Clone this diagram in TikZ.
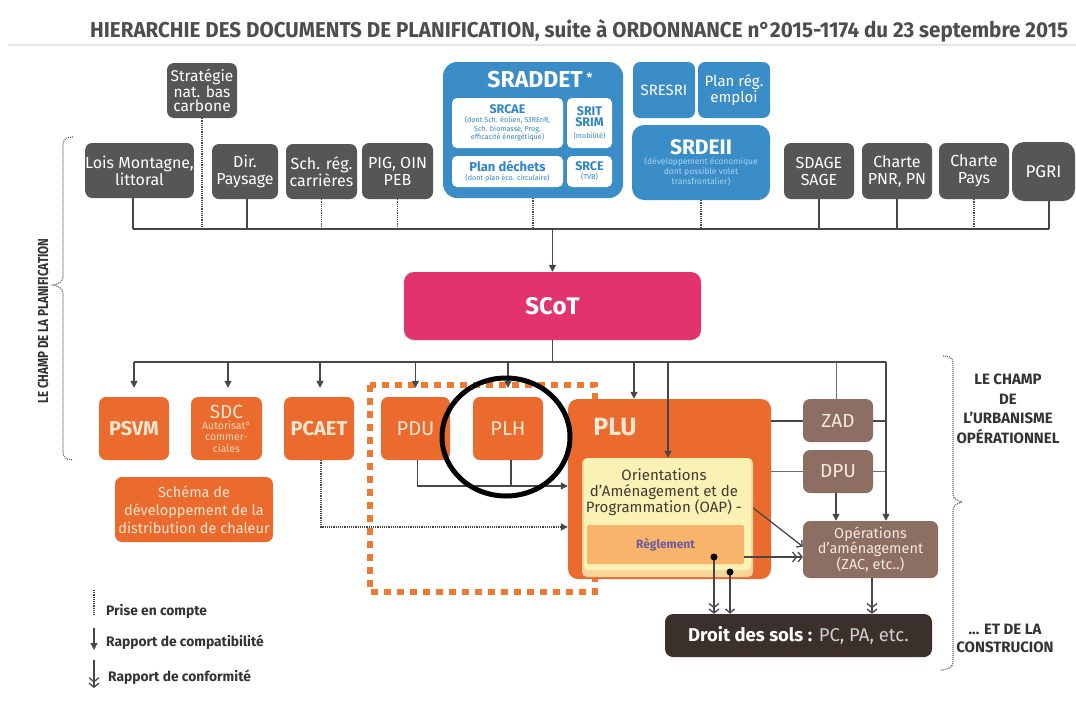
\documentclass[tikz,border=0pt]{standalone}
\usepackage{fontspec}
\setmainfont{Fira Sans}
\newfontfamily\condfont[FakeStretch=0.8]{Fira Sans}
\usetikzlibrary{arrows.meta}
\definecolor{gboxc}{HTML}{565657}
\definecolor{bboxc}{HTML}{3A8DC7}
\definecolor{btxtc}{HTML}{2F86C4}
\definecolor{bsmall}{HTML}{A8D3F0}
\definecolor{magc}{HTML}{E2336F}
\definecolor{oboxc}{HTML}{EA6B2D}
\definecolor{otxtc}{HTML}{FCE6D2}
\definecolor{brboxc}{HTML}{8C6E62}
\definecolor{brtxtc}{HTML}{F6E9E2}
\definecolor{darkc}{HTML}{3B302C}
\definecolor{ltgrayc}{HTML}{CFCFCF}
\definecolor{oapyc}{HTML}{FAF2B4}
\definecolor{oapbc}{HTML}{F6D49A}
\definecolor{oaptc}{HTML}{3F3A33}
\definecolor{reglc}{HTML}{F9B46C}
\definecolor{regtc}{HTML}{6E5A9E}
\definecolor{clinec}{HTML}{474747}
\definecolor{ttlc}{HTML}{4D4D4D}
\definecolor{txtc}{HTML}{333333}
\definecolor{framec}{HTML}{EC7A33}
\begin{document}
\begin{tikzpicture}[x=1pt,y=-1pt,
  sz/.style 2 args={minimum width=#1pt, minimum height=#2pt},
  box/.style={rounded corners=7pt, inner sep=0pt, align=center},
  gbx/.style={box, fill=gboxc, text=white, font=\fontsize{16}{17}\selectfont},
  bbx/.style={box, fill=bboxc, text=white},
  inb/.style={box, fill=white, text=btxtc, rounded corners=5pt},
  obx/.style={box, fill=oboxc, text=otxtc},
  brx/.style={box, fill=brboxc, text=brtxtc},
  conn/.style={draw=clinec, line width=1.5pt},
  thinconn/.style={draw=clinec!80, line width=0.8pt},
  dotln/.style={draw=clinec, line width=1.6pt, dash pattern=on 1.1pt off 1.1pt},
  bracel/.style={draw=clinec!85, line width=1.2pt, dash pattern=on 1pt off 1pt},
  arr/.style={conn, -{Triangle[width=7pt,length=7pt]}},
  conf/.style={conn, line width=1.3pt, -{Straight Barb[length=4pt,width=10pt,line width=1.3pt] Straight Barb[length=4pt,width=10pt,line width=1.3pt]}},
  openarr/.style={conn, line width=1.3pt, -{Straight Barb[length=4pt,width=9pt,line width=1.3pt]}},
  sidetxt/.style={inner sep=0pt, align=center, text=txtc, font=\fontsize{15}{19.5}\selectfont\bfseries},
  legtxt/.style={inner sep=0pt, anchor=west, text=txtc, font=\fontsize{13.8}{14}\selectfont\bfseries}
]
\useasboundingbox (0,0) rectangle (1076,702);
\fill[white] (0,0) rectangle (1076,702);

% title
\node[anchor=base west, inner sep=0pt, text=ttlc] (title) at (90,37)
  {\resizebox{978pt}{\height}{\fontsize{21.5}{22}\selectfont\bfseries HIERARCHIE DES DOCUMENTS DE PLANIFICATION, suite à ORDONNANCE n°2015-1174 du 23 septembre 2015}};
\draw[black!10, line width=1.5pt] (8,45) -- (1076,45);

% top row
\node[gbx, sz={70}{55}, font=\fontsize{15.5}{13.5}\selectfont] (strat) at (202,90.5) {Stratégie\\nat. bas\\carbone};
\node[gbx, sz={107}{55}] (lois) at (139.5,170.5) {Lois Montagne,\\littoral};
\node[gbx, sz={66}{55}] (dir) at (245,171.5) {Dir.\\Paysage};
\node[gbx, sz={71}{55}] (sch) at (321.5,171.5) {Sch. rég.\\carrières};
\node[gbx, sz={71}{56}] (pig) at (397.5,171) {PIG, OIN\\PEB};

\node[bbx, sz={180}{136}, rounded corners=14pt] (sraddet) at (533,130) {};
\node[text=white, inner sep=0pt, font=\fontsize{23}{23}\selectfont\bfseries] (sraddett) at (540,80)
  {SRADDET\,\raisebox{5pt}{\fontsize{13}{13}\selectfont *}};
\node[inb, sz={111}{50}, font=\fontsize{7.2}{8.8}\selectfont] (srcae) at (507.5,123)
  {{\fontsize{12.5}{13}\selectfont\bfseries SRCAE}\\(dont Sch. éolien, S3REnR,\\Sch. biomasse, Prog.\\efficacité énergétique)};
\node[inb, sz={45}{50}, font=\fontsize{7.2}{11.5}\selectfont] (srit) at (589.5,123)
  {{\fontsize{12.5}{13}\selectfont\bfseries SRIT}\\{\fontsize{12.5}{13}\selectfont\bfseries SRIM}\\(mobilité)};
\node[inb, sz={111}{31}, font=\fontsize{7.2}{9}\selectfont] (dechets) at (507.5,171.5)
  {{\fontsize{13}{13}\selectfont\bfseries Plan déchets}\\(dont plan éco. circulaire)};
\node[inb, sz={45}{31}, font=\fontsize{7.2}{9}\selectfont] (srce) at (589.5,171.5)
  {{\fontsize{12.5}{13}\selectfont\bfseries SRCE}\\(TVB)};

\node[bbx, sz={62}{56}, font=\fontsize{15}{16}\selectfont] (sresri) at (664,90) {SRESRI};
\node[bbx, sz={72}{56}, font=\fontsize{15}{16}\selectfont] (emploi) at (734,90) {Plan rég.\\emploi};
\node[bbx, sz={138}{75}, rounded corners=12pt, font=\fontsize{8.5}{10}\selectfont] (srdeii) at (701,162.5)
  {{\fontsize{21}{21}\selectfont\bfseries SRDEII}\\\textcolor{bsmall}{(développement économique}\\\textcolor{bsmall}{dont possible volet}\\\textcolor{bsmall}{transfrontalier)}};

\node[gbx, sz={70}{56}] (sdage) at (819,171) {SDAGE\\SAGE};
\node[gbx, sz={70}{56}] (pnr) at (897,171) {Charte\\PNR, PN};
\node[gbx, sz={70}{56}] (pays) at (974,171) {Charte\\Pays};
\node[gbx, sz={63}{59}, rounded corners=12pt, font=\fontsize{17}{17}\selectfont] (pgri) at (1043.5,171.5) {PGRI};

% bus 1
\coordinate (b1w) at (133,229);
\coordinate (b1e) at (1049,229);
\draw[conn] (b1w) -- (b1e);
\draw[conn] ([xshift=-6.5pt]lois.south) -- ([xshift=-6.5pt]lois.south |- b1w);
\draw[dotln] (strat.south) -- (strat.south |- b1w);
\draw[conn] ([xshift=2pt]dir.south) -- ([xshift=2pt]dir.south |- b1w);
\draw[dotln] (sch.south) -- (sch.south |- b1w);
\draw[dotln] (pig.south) -- (pig.south |- b1w);
\draw[dotln] (sraddet.south) -- (sraddet.south |- b1w);
\draw[dotln] (srdeii.south) -- (srdeii.south |- b1w);
\draw[conn] (sdage.south) -- (sdage.south |- b1w);
\draw[conn] (pnr.south) -- (pnr.south |- b1w);
\draw[dotln] (pays.south) -- (pays.south |- b1w);
\draw[conn] ([xshift=5.5pt]pgri.south) -- ([xshift=5.5pt]pgri.south |- b1w);

% SCoT
\node[box, fill=magc, text=white, sz={297}{68}, rounded corners=10pt, font=\fontsize{24}{24}\selectfont\bfseries] (scot) at (552.5,306) {SCoT};
\draw[arr] (scot.north |- b1w) -- (scot.north);

% bus 2
\coordinate (b2w) at (134,362);
\coordinate (b2e) at (886,362);
\draw[conn] (scot.south) -- (scot.south |- b2w);
\draw[conn] (b2w) -- (b2e);

% dotted frame
\draw[framec, line width=6pt, dash pattern=on 7pt off 6pt] (370,385) rectangle (595,592);

% orange row
\node[obx, sz={70}{63}, font=\fontsize{20}{20}\selectfont\bfseries] (psvm) at (134,428.5) {PSVM};
\node[obx, sz={71}{63}, font=\fontsize{10.5}{11.3}\selectfont, text=otxtc!85!oboxc] (sdc) at (226.5,428.5)
  {{\fontsize{19}{17}\selectfont\textcolor{otxtc}{SDC}}\\Autorisat°\\commer-\\ciales};
\node[obx, sz={70}{63}, font=\fontsize{20}{20}\selectfont\bfseries] (pcaet) at (319,428.5) {PCAET};
\node[obx, sz={69}{63}, font=\fontsize{20}{20}\selectfont] (pdu) at (415.5,428.5) {PDU};
\node[obx, sz={70}{63}, font=\fontsize{20}{20}\selectfont] (plh) at (508,428.5) {PLH};
\node[obx, sz={158}{65}, font=\fontsize{14.5}{18}\selectfont] (schema) at (194,509.5) {Schéma de\\développement de la\\distribution de chaleur};

\draw[arr, shorten >=9pt] (psvm.north |- b2w) -- (psvm.north);
\draw[arr, shorten >=9pt] ([xshift=1.5pt]sdc.north |- b2w) -- ([xshift=1.5pt]sdc.north);
\draw[arr, shorten >=9pt] ([xshift=1pt]pcaet.north |- b2w) -- ([xshift=1pt]pcaet.north);
\draw[arr, shorten >=9pt] (pdu.north |- b2w) -- (pdu.north);
\draw[arr, shorten >=9pt] (plh.north |- b2w) -- (plh.north);

% PLU
\node[obx, sz={203}{180}, rounded corners=10pt] (plu) at (669.5,489) {};
\node[inner sep=0pt, text=otxtc, font=\fontsize{25}{25}\selectfont\bfseries] (plut) at (615,427) {PLU};
\node[box, fill=oapbc, sz={171}{119}, rounded corners=5pt] (oap) at (667.5,517.5) {};
\node[box, fill=oapyc, sz={167}{112}, rounded corners=4pt] (oapin) at (667.5,514) {};
\node[inner sep=0pt, align=center, text=oaptc, font=\fontsize{15}{16}\selectfont] (oapt) at (664,492)
  {Orientations\\d’Aménagement et de\\Programmation (OAP) -};
\node[box, fill=reglc, sz={157}{39}, rounded corners=2pt, text=regtc, font=\fontsize{12}{12}\selectfont\bfseries] (regl) at (665.5,544.5) {Règlement};

\coordinate (pluarr) at (634,362);
\coordinate (oaparr) at (668,362);
\draw[arr] (pluarr) -- (pluarr |- plu.north);
\draw[arr] (oaparr) -- (oaparr |- oap.north);

\coordinate (pdurow) at (0,486);
\coordinate (pcrow) at (0,527);
\draw[arr] ([xshift=2pt]pdu.south) |- (plu.west |- pdurow);
\draw[conn] ([xshift=3pt]plh.south) -- ([xshift=3pt]plh.south |- pdurow);
\draw[dotln, -{Triangle[width=7pt,length=7pt]}] ([xshift=2pt]pcaet.south) |- (plu.west |- pcrow);

% ZAD DPU operations
\node[brx, sz={70}{43}, font=\fontsize{19}{19}\selectfont] (zad) at (838,420.5) {ZAD};
\node[brx, sz={70}{43}, font=\fontsize{19}{19}\selectfont] (dpu) at (838,471.5) {DPU};
\node[brx, sz={135}{57}, font=\fontsize{14.5}{15}\selectfont] (oper) at (870.5,549.5) {Opérations\\d’aménagement\\(ZAC, etc..)};

\draw[conn, line width=2pt] (plu.east |- zad.west) -- (zad.west);
\draw[conn, line width=2pt] (zad.east) -- (zad.east -| b2e);
\draw[thinconn] (plu.east |- dpu.west) -- (dpu.west);
\draw[thinconn] (dpu.east) -- (dpu.east -| b2e);
\draw[thinconn] ([xshift=-2pt]zad.north |- b2w) -- ([xshift=-2pt]zad.north);
\draw[arr] (b2e) -- (b2e |- oper.north);
\draw[arr] ([xshift=-2pt]dpu.south) -- ([xshift=-2pt]dpu.south |- oper.north);
\draw[openarr] ([yshift=9.5pt]oap.east) -- ([yshift=3pt]oper.west);
\draw[conf] ([yshift=-12.5pt]regl.east) -- ([yshift=-12.5pt]regl.east -| oper.west);

% Droit des sols
\node[box, fill=darkc, sz={267}{43}, rounded corners=8pt, text=white, font=\fontsize{18.5}{19}\selectfont] (droit) at (798.5,635.5)
  {\textbf{Droit des sols :} \textcolor{ltgrayc}{PC, PA, etc.}};
\coordinate (d1) at (714,557);
\coordinate (d2) at (730,572);
\draw[conf] (d1) -- (d1 |- droit.north);
\draw[openarr] (d2) -- (d2 |- droit.north);
\fill[black] (d1) circle (3.5);
\fill[black] (d2) circle (3.5);
\draw[conf] ([xshift=1.5pt]oper.south) -- ([xshift=1.5pt]oper.south |- droit.north);

% circle round PLH
\draw[black, line width=5pt] (506,437) ellipse [x radius=64, y radius=59];

% braces
\draw[bracel] (73,137) .. controls (66,137) and (63,140) .. (63,145) -- (63,277)
  .. controls (63,282) and (58,284) .. (53,285) .. controls (58,286) and (63,288) .. (63,293)
  -- (63,452) .. controls (63,457) and (66,460) .. (73,460);
\node[inner sep=0pt, rotate=90, text=txtc, font=\condfont\fontsize{14.5}{15}\selectfont\bfseries] (plan) at (43,321) {LE CHAMP DE LA PLANIFICATION};

\draw[bracel] (943,356) .. controls (950,356) and (953,358) .. (953,364) -- (953,494)
  .. controls (953,499) and (958,501) .. (962,502) .. controls (958,503) and (953,505) .. (953,510)
  -- (953,662) .. controls (953,667) and (948,670) .. (940,670);
\node[sidetxt] (urb) at (1008,409) {LE CHAMP\\DE\\L’URBANISME\\OPÉRATIONNEL};
\node[sidetxt, font=\fontsize{15}{18}\selectfont\bfseries] (constr) at (1005,638) {... ET DE LA\\CONSTRUCION};

% legend
\coordinate (l1a) at (94,590); \coordinate (l1b) at (94,615);
\coordinate (l2a) at (94,628); \coordinate (l2b) at (94,650);
\coordinate (l3a) at (94,660); \coordinate (l3b) at (94,688);
\draw[dotln, line width=1.4pt] (l1a) -- (l1b);
\draw[arr, line width=1.3pt] (l2a) -- (l2b);
\draw[conf] (l3a) -- (l3b);
\node[legtxt] (leg1) at (106,611) {Prise en compte};
\node[legtxt] (leg2) at (106,642) {Rapport de compatibilité};
\node[legtxt] (leg3) at (108,677) {Rapport de conformité};
\end{tikzpicture}
\end{document}
